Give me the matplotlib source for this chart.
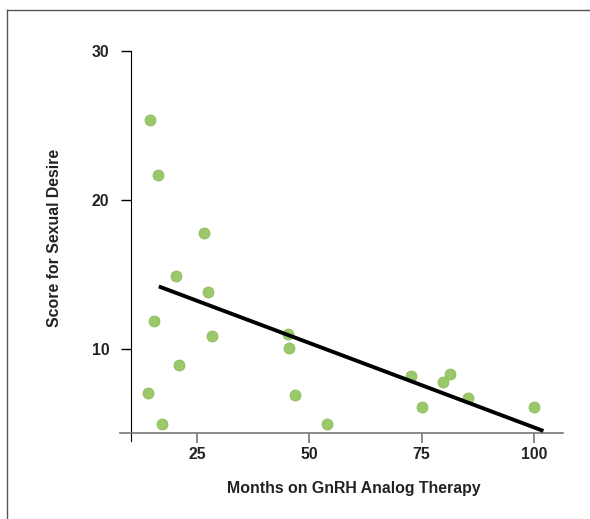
import matplotlib
matplotlib.use("Agg")
import matplotlib.pyplot as plt
from matplotlib.lines import Line2D

# data
months = [14.5, 16.3, 26.6, 20.3, 27.4, 15.4, 28.3, 45.3, 45.5, 21.0,
          14.1, 46.8, 17.2, 54.0, 72.6, 75.0, 79.7, 81.3, 85.4, 100.0]
desire = [25.4, 21.7, 17.8, 14.9, 13.8, 11.9, 10.9, 11.0, 10.1, 8.9,
          7.05, 6.9, 5.0, 5.0, 8.2, 6.1, 7.8, 8.3, 6.7, 6.1]
trend_x = [16.5, 102.1]
trend_y = [14.2, 4.5]
x_ticks = [25, 50, 75, 100]
y_ticks = [10, 20, 30]

plt.rcParams['font.family'] = ['Liberation Sans', 'DejaVu Sans']

W, H = 590, 519
fig = plt.figure(figsize=(W / 100, H / 100), dpi=100)

# axes box in pixels (left, top, right, bottom)
L, T, R, B = 120, 40, 563, 441
ax = fig.add_axes([L / W, 1 - B / H, (R - L) / W, (B - T) / H])

def px_to_x(px):
    return 25 + (px - 197) / 4.493

def py_to_y(py):
    return 30 - (py - 51) / 14.9

ax.set_xlim(px_to_x(L), px_to_x(R))
ax.set_ylim(py_to_y(B), py_to_y(T))

ax.scatter(months, desire, s=62, color='#9bc86a', edgecolor='#8dbb5c',
           linewidth=0.6, zorder=3)
ax.plot(trend_x, trend_y, color='black', linewidth=2.8, zorder=4,
        solid_capstyle='butt')

ax.spines['top'].set_visible(False)
ax.spines['right'].set_visible(False)
ax.spines['left'].set_position(('data', px_to_x(131)))
ax.spines['left'].set_bounds(py_to_y(B), 30)
ax.spines['left'].set_color('black')
ax.spines['bottom'].set_position(('data', py_to_y(433)))
ax.spines['bottom'].set_color('#777777')
ax.spines['bottom'].set_linewidth(1.2)

fs = 11.4
ax.set_xticks(x_ticks)
ax.set_yticks(y_ticks)
ax.tick_params(axis='x', length=7, width=1.2, color='#777777', pad=3,
               labelsize=fs, labelcolor='#222222')
ax.tick_params(axis='y', length=7, width=1, color='black', pad=8.5,
               labelsize=fs, labelcolor='#222222')
for lab in ax.get_xticklabels() + ax.get_yticklabels():
    lab.set_fontweight('bold')

fig.text(354 / W, 1 - 489 / H, 'Months on GnRH Analog Therapy', ha='center',
         va='center', fontsize=fs, fontweight='bold', color='#222222')
fig.text(55 / W, 1 - 238 / H, 'Score for Sexual Desire', ha='center',
         va='center', rotation=90, fontsize=fs, fontweight='bold',
         color='#222222')

# outer frame lines (top and left)
fig.add_artist(Line2D([7 / W, 1], [1 - 10 / H, 1 - 10 / H],
                      transform=fig.transFigure, color='#555555', lw=1))
fig.add_artist(Line2D([7 / W, 7 / W], [0, 1 - 10 / H],
                      transform=fig.transFigure, color='#555555', lw=1))

fig.savefig('out.png', dpi=100)
